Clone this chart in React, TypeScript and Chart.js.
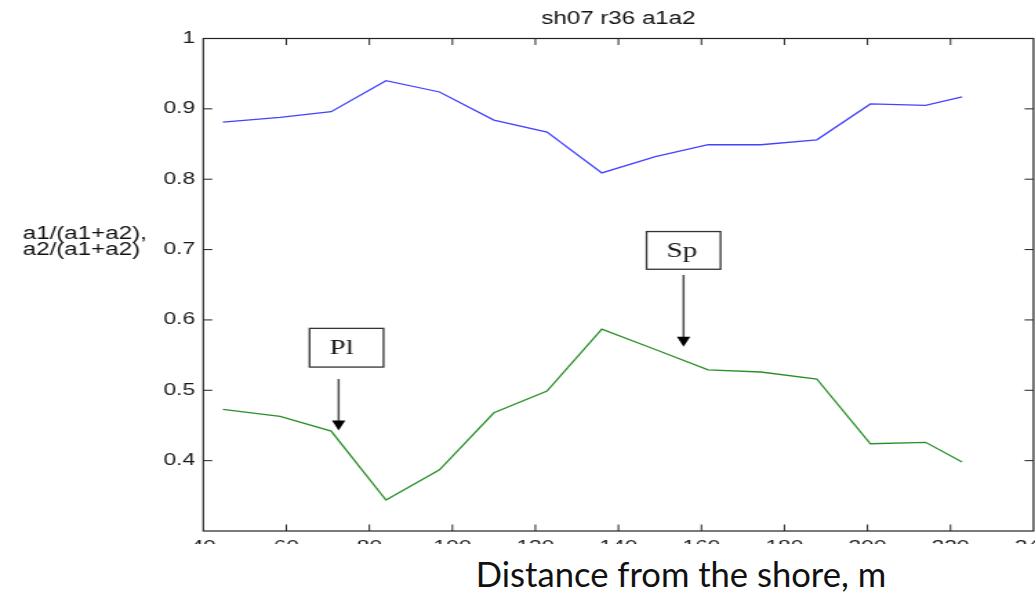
import React, { useEffect, useRef } from 'react';
import { Chart, registerables } from 'chart.js';

Chart.register(...registerables);

// Distance of each sampling station from the shore, m
const distance = [44.7, 58.5, 70.8, 84.0, 96.9, 110.0, 122.8, 136.0, 148.9, 161.6, 174.3, 187.8, 200.7, 214.0, 222.8];
// a1/(a1+a2)
const a1Share = [0.881, 0.888, 0.896, 0.94, 0.924, 0.884, 0.867, 0.809, 0.832, 0.849, 0.849, 0.856, 0.907, 0.905, 0.917];
// a2/(a1+a2)
const a2Share = [0.473, 0.463, 0.442, 0.344, 0.387, 0.468, 0.499, 0.587, 0.558, 0.529, 0.526, 0.516, 0.424, 0.426, 0.398];

const xTicks = [40, 60, 80, 100, 120, 140, 160, 180, 200, 220, 240];
const yTicks = [0.3, 0.4, 0.5, 0.6, 0.7, 0.8, 0.9, 1];

const chartTitle = 'sh07 r36 a1a2';
const yTitleLines = ['a1/(a1+a2),', 'a2/(a1+a2)'];
const xTitle = 'Distance from the shore, m';

// Labelled call-outs with a downward arrow, in data units
const callouts = [
  { label: 'Pl', boxX: 74.5, textX: 73.3, boxTop: 0.588, boxBottom: 0.533, arrowX: 72.6, arrowFrom: 0.516, arrowTo: 0.443 },
  { label: 'Sp', boxX: 155.7, textX: 155.3, boxTop: 0.7256, boxBottom: 0.672, arrowX: 155.7, arrowFrom: 0.664, arrowTo: 0.562 },
];

// The figure is drawn narrow and stretched sideways
const STRETCH = 1.38;
const CANVAS_W = 750;
const CANVAS_H = 570;
const PLOT_LEFT = 203.3 / STRETCH;
const PLOT_RIGHT = 1033.5 / STRETCH;
const PLOT_TOP = 38.5;
const PLOT_BOTTOM = 531;
const TICK_LEN = 6.5;

const SANS = '"Liberation Sans", Arial, sans-serif';
const SERIF = '"Liberation Serif", "Times New Roman", serif';

const axesPlugin = {
  id: 'matlabAxes',
  afterDatasetsDraw(chart: any) {
    const { ctx, chartArea: a, scales } = chart;
    const xs = scales.x;
    const ys = scales.y;
    ctx.save();

    // frame
    ctx.strokeStyle = '#222';
    ctx.lineWidth = 1.2;
    ctx.strokeRect(a.left, a.top, a.right - a.left, a.bottom - a.top);

    // inward ticks on all four sides
    ctx.beginPath();
    ctx.lineWidth = 1;
    for (const v of xTicks) {
      const px = xs.getPixelForValue(v);
      if (px <= a.left + 1 || px >= a.right - 1) continue;
      ctx.moveTo(px, a.bottom);
      ctx.lineTo(px, a.bottom - TICK_LEN);
      ctx.moveTo(px, a.top);
      ctx.lineTo(px, a.top + TICK_LEN);
    }
    for (const v of yTicks) {
      const py = ys.getPixelForValue(v);
      if (py <= a.top + 1 || py >= a.bottom - 1) continue;
      ctx.moveTo(a.left, py);
      ctx.lineTo(a.left + TICK_LEN, py);
      ctx.moveTo(a.right, py);
      ctx.lineTo(a.right - TICK_LEN, py);
    }
    ctx.stroke();

    // call-out boxes and arrows
    for (const c of callouts) {
      const cx = xs.getPixelForValue(c.boxX);
      const top = ys.getPixelForValue(c.boxTop);
      const bottom = ys.getPixelForValue(c.boxBottom);
      const w = 74 / STRETCH;
      ctx.fillStyle = '#fff';
      ctx.fillRect(cx - w / 2, top, w, bottom - top);
      ctx.strokeStyle = '#333';
      ctx.lineWidth = 1.3;
      ctx.strokeRect(cx - w / 2, top, w, bottom - top);
      ctx.fillStyle = '#1a1a1a';
      ctx.font = `21px ${SERIF}`;
      ctx.textAlign = 'center';
      ctx.textBaseline = 'middle';
      ctx.fillText(c.label, xs.getPixelForValue(c.textX), (top + bottom) / 2 + 1);

      const ax = xs.getPixelForValue(c.arrowX);
      const y0 = ys.getPixelForValue(c.arrowFrom);
      const y1 = ys.getPixelForValue(c.arrowTo);
      const headH = 10;
      const headW = 13.3 / STRETCH;
      ctx.strokeStyle = '#4a4a4a';
      ctx.lineWidth = 1.5;
      ctx.beginPath();
      ctx.moveTo(ax, y0);
      ctx.lineTo(ax, y1 - headH + 1);
      ctx.stroke();
      ctx.fillStyle = '#000';
      ctx.beginPath();
      ctx.moveTo(ax - headW / 2, y1 - headH);
      ctx.lineTo(ax + headW / 2, y1 - headH);
      ctx.lineTo(ax, y1);
      ctx.closePath();
      ctx.fill();
    }

    // title
    ctx.fillStyle = '#111';
    ctx.font = `17.5px ${SANS}`;
    ctx.textAlign = 'center';
    ctx.textBaseline = 'alphabetic';
    ctx.fillText(chartTitle, (a.left + a.right) / 2, 24);

    // horizontal y-axis caption
    ctx.font = `17.5px ${SANS}`;
    ctx.textAlign = 'left';
    ctx.fillText(yTitleLines[0], 22.7 / STRETCH, 238.5);
    ctx.fillText(yTitleLines[1], 22.7 / STRETCH, 255);

    ctx.restore();
  },
};

export default function App() {
  const canvasRef = useRef<HTMLCanvasElement | null>(null);

  useEffect(() => {
    const canvas = canvasRef.current;
    if (!canvas) return;
    const chart = new Chart(canvas, {
      type: 'line',
      data: {
        datasets: [
          {
            label: 'a1/(a1+a2)',
            data: distance.map((d, i) => ({ x: d, y: a1Share[i] })),
            borderColor: '#4343ff',
            borderWidth: 1.3,
            pointRadius: 0,
            tension: 0,
          },
          {
            label: 'a2/(a1+a2)',
            data: distance.map((d, i) => ({ x: d, y: a2Share[i] })),
            borderColor: '#2a8f2a',
            borderWidth: 1.3,
            pointRadius: 0,
            tension: 0,
          },
        ],
      },
      options: {
        responsive: false,
        animation: false,
        events: [],
        layout: {
          autoPadding: false,
          padding: { left: 0, top: PLOT_TOP, right: CANVAS_W - PLOT_RIGHT, bottom: 0 },
        },
        plugins: {
          legend: { display: false },
          tooltip: { enabled: false },
          title: { display: false },
        },
        scales: {
          x: {
            type: 'linear',
            min: 40,
            max: 240,
            grid: { display: false, drawTicks: false },
            border: { display: false },
            afterFit: (s: any) => {
              s.height = CANVAS_H - PLOT_BOTTOM;
              s.paddingLeft = 0;
              s.paddingRight = 0;
            },
            afterBuildTicks: (s: any) => {
              s.ticks = xTicks.map((v) => ({ value: v }));
            },
            ticks: {
              autoSkip: false,
              maxRotation: 0,
              padding: 7,
              color: '#1a1a1a',
              font: { family: SANS, size: 16.5 },
              callback: (v: any) => String(v),
            },
          },
          y: {
            type: 'linear',
            min: 0.3,
            max: 1,
            grid: { display: false, drawTicks: false },
            border: { display: false },
            afterFit: (s: any) => {
              s.width = PLOT_LEFT;
              s.paddingTop = 0;
              s.paddingBottom = 0;
            },
            afterBuildTicks: (s: any) => {
              s.ticks = yTicks.map((v) => ({ value: v }));
            },
            ticks: {
              autoSkip: false,
              padding: 6,
              color: '#1a1a1a',
              font: { family: SANS, size: 16.5 },
              callback: (v: any) => (Math.abs(Number(v) - 0.3) < 1e-6 ? '' : String(Math.round(Number(v) * 10) / 10)),
            },
          },
        },
      },
      plugins: [axesPlugin],
    });
    return () => chart.destroy();
  }, []);

  return (
    <div style={{ position: 'absolute', left: 0, top: 0, width: 1035, height: 595, background: '#fff', overflow: 'hidden' }}>
      <div style={{ position: 'absolute', left: 0, top: 0, width: 1035, height: 544, overflow: 'hidden' }}>
        <div style={{ width: CANVAS_W, height: CANVAS_H, transform: `scaleX(${STRETCH})`, transformOrigin: '0 0' }}>
          <canvas ref={canvasRef} width={CANVAS_W} height={CANVAS_H} />
        </div>
      </div>
      <div
        style={{
          position: 'absolute',
          left: 681,
          top: 556,
          transform: 'translateX(-50%)',
          whiteSpace: 'nowrap',
          fontFamily: 'Lato, "Open Sans", sans-serif',
          fontSize: 34.6,
          lineHeight: '36px',
          color: '#111',
        }}
      >
        {xTitle}
      </div>
    </div>
  );
}
